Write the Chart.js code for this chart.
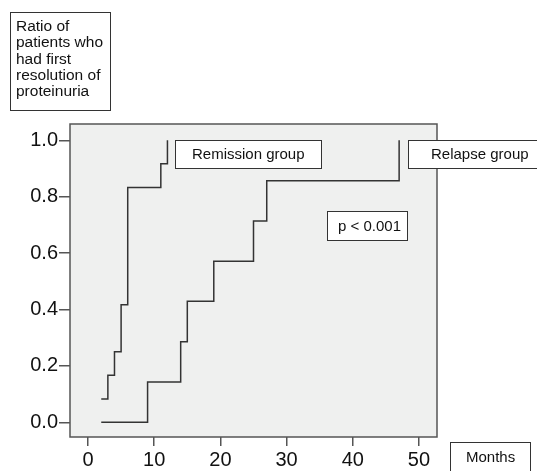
<!DOCTYPE html>
<html>
<head>
<meta charset="utf-8">
<script src="https://cdn.jsdelivr.net/npm/chart.js@4/dist/chart.umd.min.js"></script>
<style>
  body { margin: 0; background: #fff; }
  canvas { display: block; }
</style>
</head>
<body>
<canvas id="kmChart" width="537" height="471"></canvas>
<script>
// data
var remissionMonths = [2, 3, 4, 5, 6, 11, 12];
var remissionRatio = [0.083, 0.167, 0.25, 0.417, 0.833, 0.917, 1.0];
var relapseMonths = [2, 9, 14, 15, 19, 25, 27, 47];
var relapseRatio = [0, 0.143, 0.286, 0.429, 0.571, 0.714, 0.857, 1.0];
var xTicks = [0, 10, 20, 30, 40, 50];
var yTicks = [0, 0.2, 0.4, 0.6, 0.8, 1.0];

function toPoints(xs, ys) {
  var pts = [];
  for (var i = 0; i < xs.length; i++) {
    pts.push({ x: xs[i], y: ys[i] });
  }
  return pts;
}

// grey plot area + frame
var plotBox = {
  id: 'plotBox',
  beforeDatasetsDraw: function (chart) {
    var a = chart.chartArea, ctx = chart.ctx;
    ctx.save();
    ctx.fillStyle = '#eff0ef';
    ctx.fillRect(a.left, a.top, a.right - a.left, a.bottom - a.top);
    ctx.restore();
  },
  afterDraw: function (chart) {
    var a = chart.chartArea, ctx = chart.ctx;
    ctx.save();
    ctx.strokeStyle = '#555';
    ctx.lineWidth = 1.5;
    ctx.strokeRect(a.left, a.top, a.right - a.left, a.bottom - a.top);
    ctx.restore();
  }
};

// text boxes
function textBox(ctx, x, y, w, h, lines, tx, ty, lh) {
  ctx.fillStyle = '#fff';
  ctx.fillRect(x, y, w, h);
  ctx.strokeStyle = '#333';
  ctx.lineWidth = 1;
  ctx.strokeRect(x + 0.5, y + 0.5, w, h);
  ctx.fillStyle = '#111';
  for (var i = 0; i < lines.length; i++) {
    ctx.fillText(lines[i], tx, ty + i * lh);
  }
}

var labels = {
  id: 'labels',
  afterDraw: function (chart) {
    var ctx = chart.ctx;
    ctx.save();
    ctx.textBaseline = 'alphabetic';
    ctx.textAlign = 'left';
    ctx.font = '15.5px "Liberation Sans", Arial, sans-serif';
    textBox(ctx, 10, 12, 100, 98,
      ['Ratio of', 'patients who', 'had first', 'resolution of', 'proteinuria'], 16, 31, 16.3);
    ctx.font = '15px "Liberation Sans", Arial, sans-serif';
    textBox(ctx, 175, 140, 146, 28, ['Remission group'], 192, 159, 0);
    textBox(ctx, 408, 140, 140, 28, ['Relapse group'], 431, 159, 0);
    textBox(ctx, 327, 211, 80, 29, ['p < 0.001'], 338, 231, 0);
    textBox(ctx, 450, 442, 80, 40, ['Months'], 466, 462, 0);
    ctx.restore();
  }
};

var ctx = document.getElementById('kmChart').getContext('2d');
var kmChart = new Chart(ctx, {
  type: 'line',
  data: {
    datasets: [{
      label: 'Remission group',
      data: toPoints(remissionMonths, remissionRatio),
      borderColor: '#333',
      borderWidth: 1.5,
      stepped: 'before',
      pointRadius: 0,
      fill: false
    },
    {
      label: 'Relapse group',
      data: toPoints(relapseMonths, relapseRatio),
      borderColor: '#333',
      borderWidth: 1.5,
      stepped: 'before',
      pointRadius: 0,
      fill: false
    }]
  },
  options: {
    responsive: false,
    animation: false,
    layout: { padding: { top: 124, right: 100, left: 0, bottom: 0 } },
    plugins: {
      legend: { display: false },
      tooltip: { enabled: false }
    },
    scales: {
      x: {
        type: 'linear',
        min: -2.72,
        max: 52.72,
        afterBuildTicks: function (axis) {
          axis.ticks = xTicks.map(function (v) { return { value: v }; });
        },
        afterFit: function (axis) { axis.height = 34; },
        border: { display: false },
        grid: { drawOnChartArea: false, drawTicks: true, tickLength: 9, color: '#555', lineWidth: 1.5 },
        ticks: {
          color: '#111',
          padding: 2,
          maxRotation: 0,
          font: { family: '"Liberation Sans", Arial, sans-serif', size: 20 }
        }
      },
      y: {
        type: 'linear',
        min: -0.052,
        max: 1.058,
        afterBuildTicks: function (axis) {
          axis.ticks = yTicks.map(function (v) { return { value: v }; });
        },
        afterFit: function (axis) { axis.width = 70; },
        border: { display: false },
        grid: { drawOnChartArea: false, drawTicks: true, tickLength: 11, color: '#555', lineWidth: 1.5 },
        ticks: {
          color: '#111',
          padding: 1,
          font: { family: '"Liberation Sans", Arial, sans-serif', size: 20 },
          callback: function (v) { return v.toFixed(1); }
        }
      }
    }
  },
  plugins: [plotBox, labels]
});
</script>
</body>
</html>
